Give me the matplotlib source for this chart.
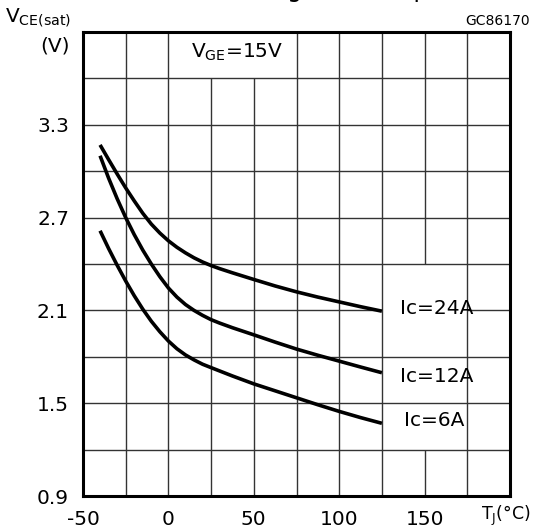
import matplotlib
matplotlib.use("Agg")
import matplotlib.pyplot as plt

# ---- data ----
t_24 = [-40, -35, -30, -25, -20, -15, -10, -5, 0, 5, 10, 15, 20, 25, 30, 37.5, 50, 62.5, 75, 87.5, 100, 112.5, 125]
v_24 = [3.17, 3.075, 2.982, 2.892, 2.808, 2.728, 2.658, 2.600, 2.550, 2.508, 2.472, 2.440, 2.413, 2.390, 2.370,
        2.343, 2.300, 2.258, 2.220, 2.186, 2.155, 2.124, 2.095]

t_12 = [-40, -35, -30, -25, -20, -15, -10, -5, 0, 5, 10, 15, 20, 25, 30, 37.5, 50, 62.5, 75, 87.5, 100, 112.5, 125]
v_12 = [3.10, 2.955, 2.822, 2.700, 2.590, 2.490, 2.400, 2.318, 2.245, 2.186, 2.138, 2.100, 2.068, 2.040, 2.018,
        1.988, 1.942, 1.895, 1.850, 1.810, 1.772, 1.734, 1.697]

t_6 = [-40, -35, -30, -25, -20, -15, -10, -5, 0, 5, 10, 15, 20, 25, 37.5, 50, 62.5, 75, 87.5, 100, 112.5, 125]
v_6 = [2.615, 2.500, 2.392, 2.290, 2.195, 2.108, 2.030, 1.962, 1.902, 1.852, 1.812, 1.780, 1.752, 1.730,
       1.676, 1.625, 1.580, 1.535, 1.490, 1.447, 1.407, 1.370]

curve_labels = ["Ic=24A", "Ic=12A", "Ic=6A"]
xticks = [-50, 0, 50, 100, 150]
yticks = [0.9, 1.5, 2.1, 2.7, 3.3]
x_grid = [-25, 0, 25, 50, 75, 100, 125, 150, 175]
y_grid = [1.2, 1.5, 1.8, 2.1, 2.4, 2.7, 3.0, 3.3, 3.6]
xlim = (-50, 200)
ylim = (0.9, 3.9)

plt.rcParams['font.family'] = ['DejaVu Sans']

fig = plt.figure(figsize=(5.36, 5.29), dpi=100)
ax = fig.add_axes([83/536, 1-496/529, (510-83)/536, (496-32)/529])
ax.set_xlim(*xlim)
ax.set_ylim(*ylim)

gc = '#333333'
glw = 1.0
# vertical grid lines (some segments hidden behind labels)
for x in x_grid:
    if x in (25, 50):
        ax.vlines(x, 0.9, 3.6, color=gc, lw=glw, zorder=1)
    elif x == 150:
        ax.vlines(x, 0.9, 1.2, color=gc, lw=glw, zorder=1)
        ax.vlines(x, 2.4, 3.9, color=gc, lw=glw, zorder=1)
    else:
        ax.vlines(x, 0.9, 3.9, color=gc, lw=glw, zorder=1)
# horizontal grid lines
for y in y_grid:
    if abs(y - 2.1) < 1e-9:
        ax.hlines(y, -50, 125, color=gc, lw=glw, zorder=1)
        ax.hlines(y, 175, 200, color=gc, lw=glw, zorder=1)
    else:
        ax.hlines(y, -50, 200, color=gc, lw=glw, zorder=1)

for t, v in ((t_24, v_24), (t_12, v_12), (t_6, v_6)):
    ax.plot(t, v, color='black', lw=2.6, solid_capstyle='butt', solid_joinstyle='round', zorder=3)

fs = 14.5
ax.text(135.5, 2.11, curve_labels[0], fontsize=fs, va='center', ha='left')
ax.text(135.5, 1.675, curve_labels[1], fontsize=fs, va='center', ha='left')
ax.text(138, 1.39, curve_labels[2], fontsize=fs, va='center', ha='left')
ax.text(13.5, 3.77, r"V$_\mathregular{GE}$=15V", fontsize=fs, va='center', ha='left')

ax.set_xticks(xticks)
ax.set_xticklabels([str(v) for v in xticks])
ax.set_yticks(yticks)
ax.set_yticklabels([f"{v:.1f}" for v in yticks])
ax.tick_params(axis='both', length=0, labelsize=fs)
ax.tick_params(axis='x', pad=10)
ax.tick_params(axis='y', pad=10)
for s in ax.spines.values():
    s.set_linewidth(2.2)
    s.set_color('black')
    s.set_zorder(4)

# axis labels and annotations
fig.text(5/536, 1-18/529, r"V$_\mathregular{CE(sat)}$", fontsize=fs, ha='left', va='center')
fig.text(70/536, 1-46/529, "(V)", fontsize=fs, ha='right', va='center')
fig.text(531/536, 1-516/529, r"T$_\mathregular{J}$(°C)", fontsize=12.5, ha='right', va='center')
fig.text(530/536, 1-21/529, "GC86170", fontsize=10, ha='right', va='center')
# cropped chart title at the very top (only its lower part is visible in the reference)
fig.text(0.5, 1-2/529, "Collector-Emitter Voltage vs. Temperature", fontsize=17,
         ha='center', va='bottom', color='black')

fig.savefig("out.png", dpi=100)
